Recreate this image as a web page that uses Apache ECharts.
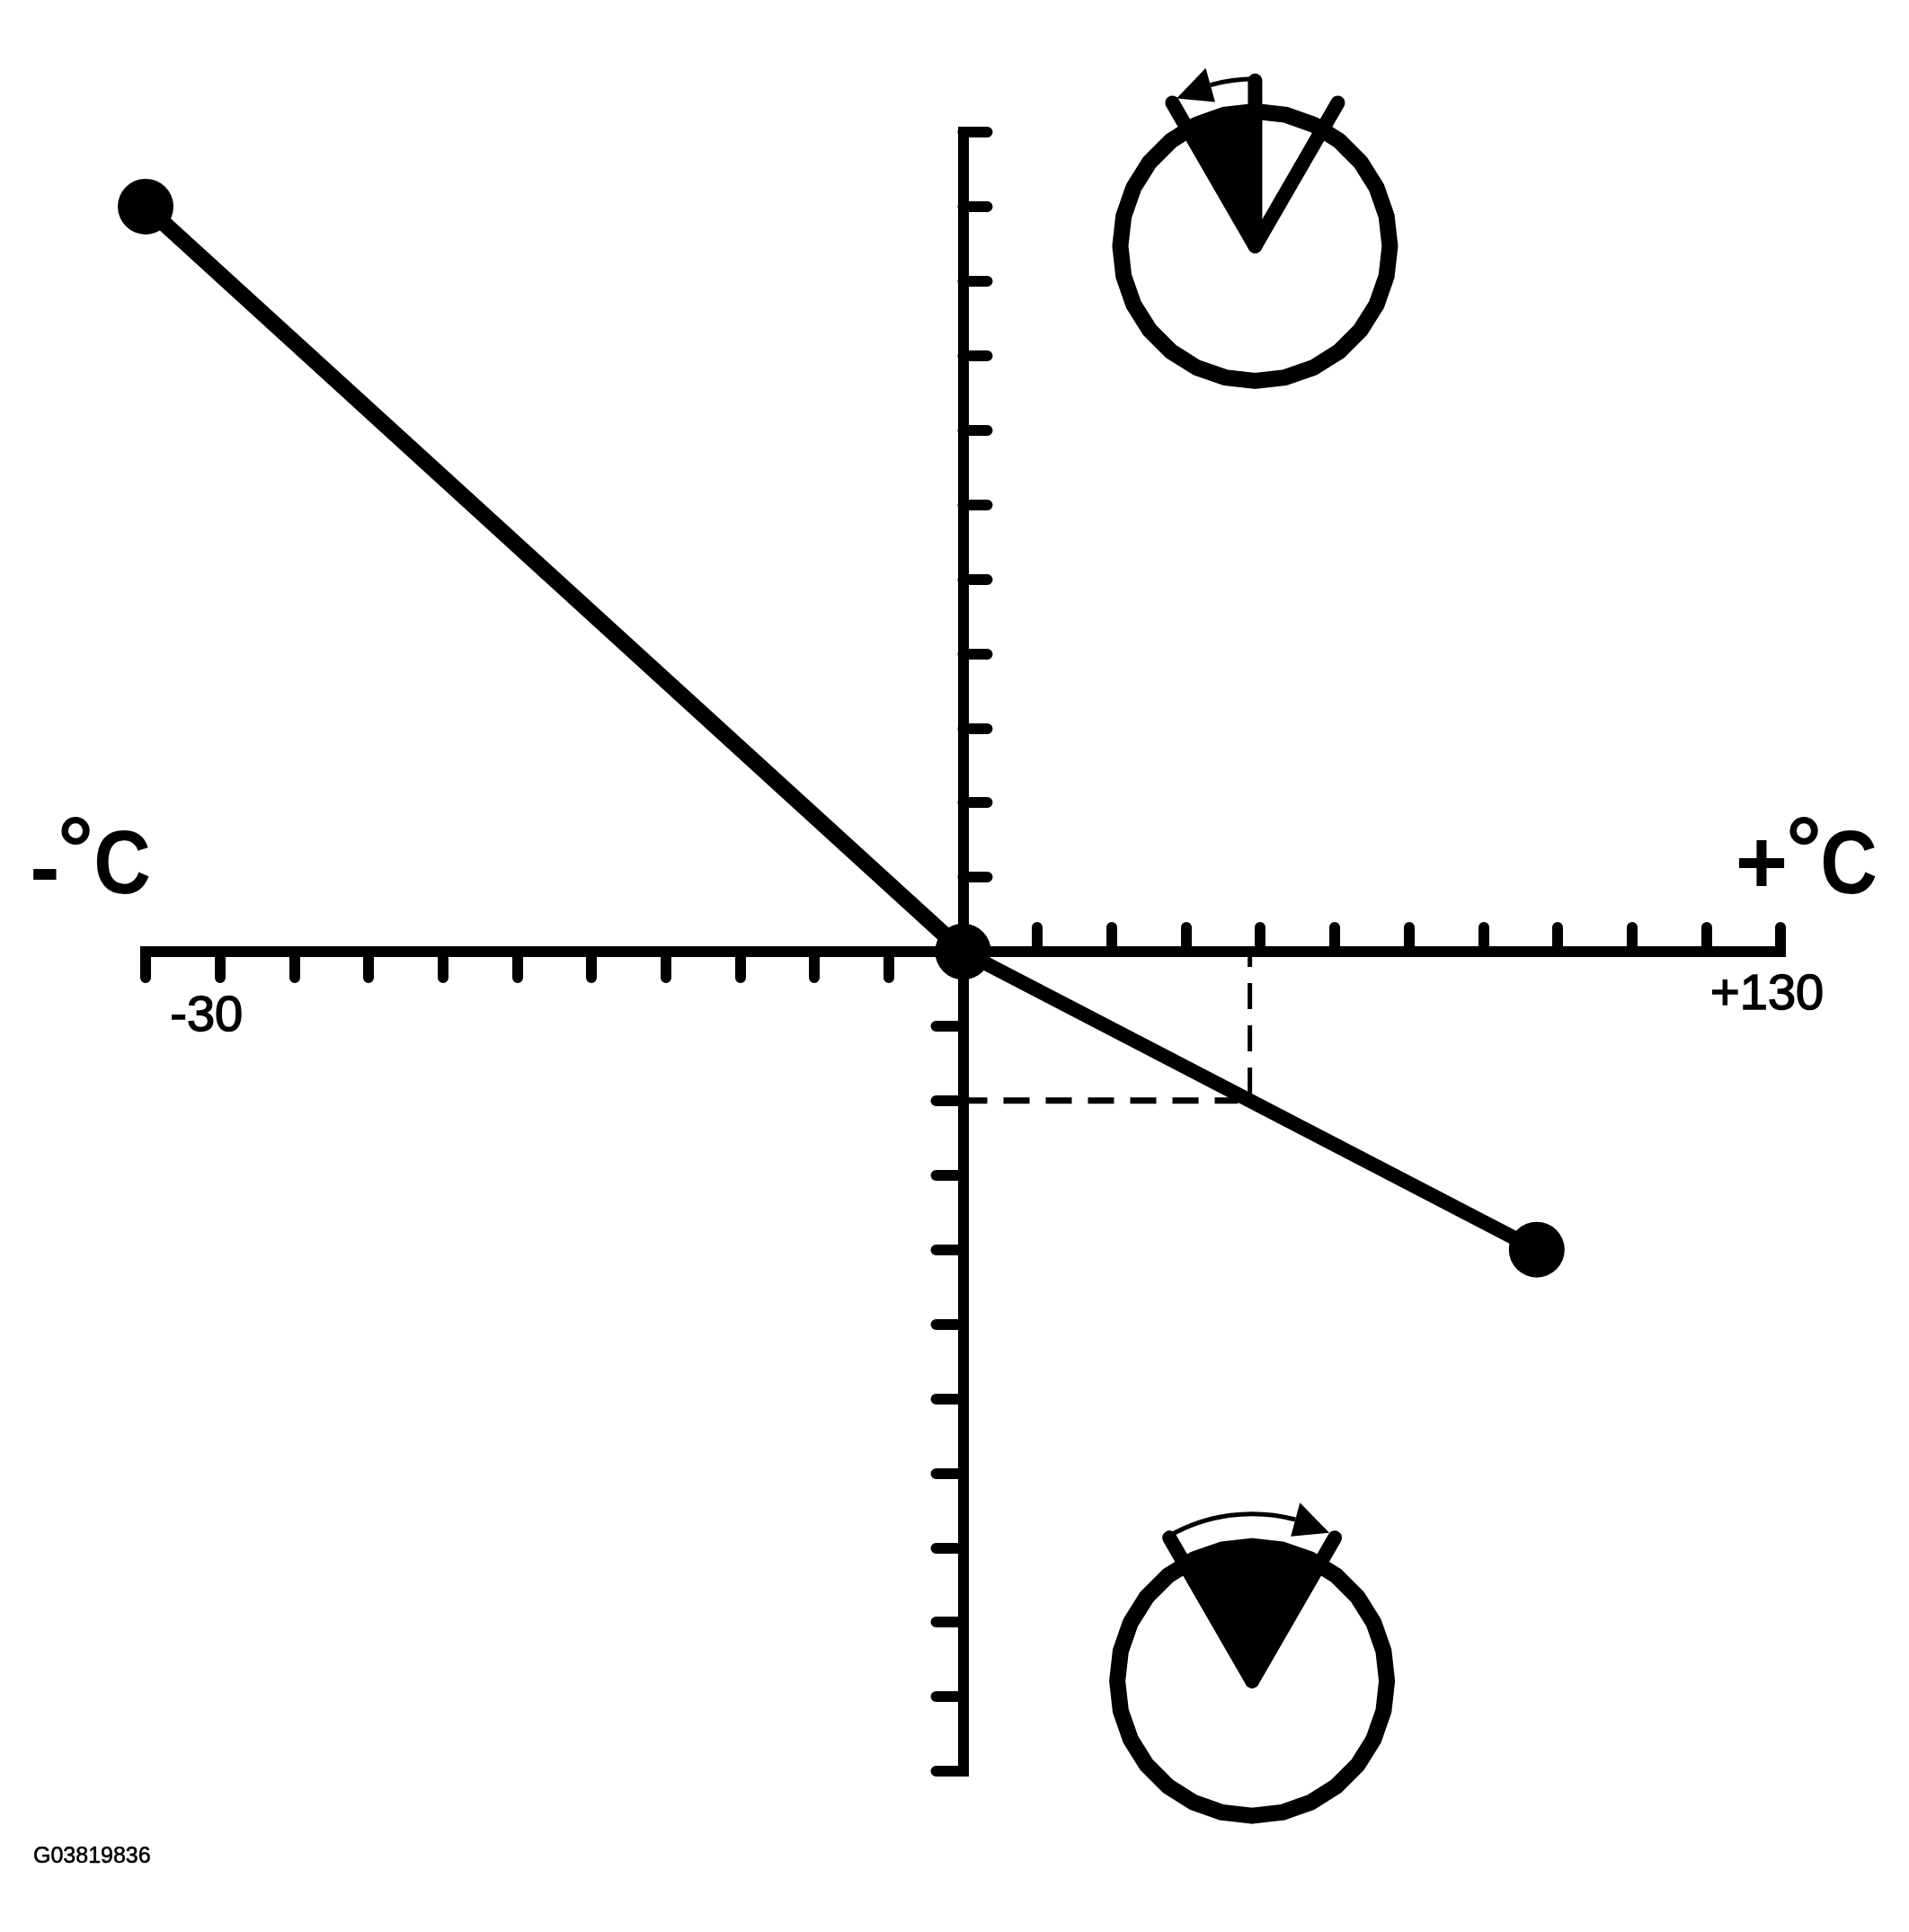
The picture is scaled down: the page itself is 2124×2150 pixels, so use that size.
<!DOCTYPE html>
<html>
<head>
<meta charset="utf-8">
<style>html,body{margin:0;padding:0;background:#fff}#c{width:2124px;height:2150px}</style>
<script src="https://cdn.jsdelivr.net/npm/echarts@6/dist/echarts.min.js"></script>
</head>
<body>
<div id="c"></div>
<script>
// Axis divisions counted on each side of the origin
const negTicks = [-11,-10,-9,-8,-7,-6,-5,-4,-3,-2,-1];
const posTicks = [1,2,3,4,5,6,7,8,9,10,11];
// Characteristic line, in axis divisions
const curveCold = [[-11,10],[0,0]];
const curveHot = [[0,0],[7.72,-4]];
// Dashed read-off lines
const dashDown = [[3.86,0],[3.86,-1.93]];
const dashAcross = [[0,-2],[3.7,-2]];
// Tick label texts with their places in axis divisions
const tickLabelPlaces = [[-10.18,-0.88],[10.82,-0.59]];
const tickLabelTexts = ['-30','+130'];
// Dials: centre [x,y] in axis divisions, needles and wedge in degrees from vertical
const dialCentres = [[3.93,9.47],[3.89,-9.79]];
const dialNeedles = [[-30,0,30],[-30,30]];
const dialWedges = [[-30,0],[-30,30]];
const dialArrows = [[0,-28],[-30,27.5]];
const figureId = 'G03819836';

const INK = '#000';
const R_RING = 150, W_RING = 18, RING_SIDES = 28, L_NEEDLE = 184, W_NEEDLE = 16, R_ARROW = 186, W_ARROW = 5;
const rad = d => (d - 90) * Math.PI / 180;  // degrees from vertical to canvas radians

function renderDial(params, api) {
  const i = params.dataIndex;
  const [cx, cy] = api.coord([api.value(0), api.value(1)]);
  const pt = (deg, r) => [cx + r * Math.cos(rad(deg)), cy + r * Math.sin(rad(deg))];
  const [w0, w1] = dialWedges[i];
  const [a0, a1] = dialArrows[i];
  const dir = a1 > a0 ? 1 : -1;
  const headTip = a1, headBase = a1 - dir * 12.5;
  const children = [];
  const ring = [];
  for (let k = 0; k < RING_SIDES; k++) ring.push(pt(k * 360 / RING_SIDES, R_RING));
  children.push({type:'polygon', shape:{points:ring}, style:{fill:'none', stroke:INK, lineWidth:W_RING, lineJoin:'round'}});
  children.push({type:'sector', shape:{cx, cy, r0:0, r:R_RING, startAngle:rad(w0), endAngle:rad(w1), clockwise:true}, style:{fill:INK}});
  dialNeedles[i].forEach(d => {
    const p = pt(d, L_NEEDLE);
    children.push({type:'line', shape:{x1:cx, y1:cy, x2:p[0], y2:p[1]}, style:{stroke:INK, lineWidth:W_NEEDLE, lineCap:'round'}});
  });
  const arcStart = Math.min(rad(a0), rad(headBase)), arcEnd = Math.max(rad(a0), rad(headBase));
  children.push({type:'arc', shape:{cx, cy, r:R_ARROW, startAngle:arcStart, endAngle:arcEnd, clockwise:true}, style:{fill:'none', stroke:INK, lineWidth:W_ARROW}});
  children.push({type:'polygon', shape:{points:[pt(headTip, R_ARROW), pt(headBase, R_ARROW+19.5), pt(headBase, R_ARROW-19.5)]}, style:{fill:INK}});
  return {type:'group', children};
}

const lineCommon = {color:INK, width:12, cap:'square'};
const tickCommon = {color:INK, width:12, cap:'round'};
const font = 'Liberation Sans, Arial, sans-serif';
const baseAxis = {type:'value', min:-11, max:11, splitLine:{show:false}, axisLabel:{show:false},
  axisLine:{show:true, onZero:true, onZeroAxisIndex:0, lineStyle:lineCommon}};
const axisWith = (position, customValues, length) => Object.assign({}, baseAxis, {position,
  axisTick:{show:true, customValues, length, inside:false, lineStyle:tickCommon}});
const heading = (text, x, y, scaleX) => ({type:'text', x, y, scaleX:scaleX||1,
  style:{text, fill:INK, font:'bold 100px '+font, textAlign:'center', textVerticalAlign:'middle'}});

const chart = echarts.init(document.getElementById('c'), null, {renderer:'canvas', width:2124, height:2150});
chart.setOption({
  animation:false,
  backgroundColor:'#fff',
  grid:{left:162, right:143, top:147, bottom:179, containLabel:false},
  xAxis:[axisWith('bottom', negTicks, 29), axisWith('top', posTicks, 27)],
  yAxis:[axisWith('left', negTicks, 30), axisWith('right', posTicks, 27)],
  series:[
    {type:'line', data:curveCold, symbol:'circle', symbolSize:62, clip:false, z:5,
     itemStyle:{color:INK}, lineStyle:{color:INK, width:18}},
    {type:'line', data:curveHot, symbol:'circle', symbolSize:62, clip:false, z:5,
     itemStyle:{color:INK}, lineStyle:{color:INK, width:16}},
    {type:'line', data:dashDown, symbol:'none', clip:false, z:3,
     lineStyle:{color:INK, width:5, type:[29,18], dashOffset:12}},
    {type:'line', data:dashAcross, symbol:'none', clip:false, z:3,
     lineStyle:{color:INK, width:7, type:[29,18], dashOffset:2}},
    {type:'custom', coordinateSystem:'cartesian2d', data:dialCentres, renderItem:renderDial, clip:false, z:4},
    {type:'scatter', data:tickLabelPlaces, symbolSize:0, clip:false, z:6, itemStyle:{opacity:1, color:INK},
     label:{show:true, position:'inside', formatter:p=>tickLabelTexts[p.dataIndex], color:INK, opacity:1,
            fontFamily:font, fontSize:56, textBorderColor:INK, textBorderWidth:1.5}}
  ],
  graphic:[
    heading('-', 50, 971),
    heading('°', 84, 951),
    heading('C', 136, 966, 0.88),
    heading('+', 1960, 966),
    heading('°', 2007, 951),
    heading('C', 2057, 966, 0.88),
    {type:'text', x:37, y:2066, style:{text:figureId, fill:INK, stroke:INK, lineWidth:0.6, font:'25px '+font, textAlign:'left', textVerticalAlign:'middle'}}
  ]
});
</script>
</body>
</html>
